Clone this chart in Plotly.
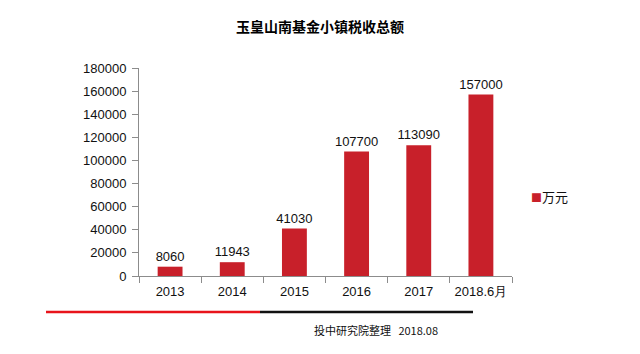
import plotly.graph_objects as go

categories = ["2013", "2014", "2015", "2016", "2017", "2018.6月"]
values = [8060, 11943, 41030, 107700, 113090, 157000]
series_name = "万元"
title = "玉皇山南基金小镇税收总额"
footer = "投中研究院整理   2018.08"
yticks = [0, 20000, 40000, 60000, 80000, 100000, 120000, 140000, 160000, 180000]

W, H = 640, 354
L, R, T, B = 139, 128, 68, 78
pw, ph = W - L - R, H - T - B

def px(x):
    return (x - L) / pw

def py(y):
    return (H - B - y) / ph

bar_color = "#C8202A"
axis_color = "#8C8C8C"

fig = go.Figure()
fig.add_trace(go.Bar(
    x=categories, y=values, name=series_name,
    marker=dict(color=bar_color, line=dict(width=0)),
    text=[str(v) for v in values], textposition="outside",
    constraintext="none",
    textfont=dict(family="Liberation Sans, Arial", size=13, color="#111"),
    cliponaxis=False, showlegend=False,
))

fig.update_layout(
    width=W, height=H,
    margin=dict(l=L, r=R, t=T, b=B),
    paper_bgcolor="white", plot_bgcolor="white",
    bargap=0.6,
    font=dict(family="Liberation Sans, Arial", size=13, color="#111"),
    xaxis=dict(
        type="category", showline=True, linecolor=axis_color, linewidth=1,
        ticks="outside", tickson="boundaries", ticklen=6, tickcolor=axis_color,
        tickfont=dict(size=13, color="#111"), showgrid=False,
        ticklabelstandoff=3,
    ),
    yaxis=dict(
        range=[0, 180000], tickvals=yticks, ticktext=[str(v) for v in yticks],
        showline=True, linecolor=axis_color, linewidth=1,
        ticks="outside", ticklen=6, tickcolor=axis_color,
        tickfont=dict(size=13, color="#111"), showgrid=False, zeroline=False,
        ticklabelstandoff=3,
    ),
    annotations=[
        dict(text="<b>" + title + "</b>", xref="paper", yref="paper",
             x=px(320), y=py(26), xanchor="center", yanchor="middle",
             showarrow=False, font=dict(family="Noto Sans CJK SC", size=14, color="#000")),
        dict(text="<span style='color:" + bar_color + ";font-size:11px'>■</span>" + series_name,
             xref="paper", yref="paper", x=px(529), y=py(196),
             xanchor="left", yanchor="middle", showarrow=False,
             font=dict(family="Noto Sans CJK SC", size=13, color="#111")),
        dict(text=footer, xref="paper", yref="paper", x=px(312), y=py(330),
             xanchor="left", yanchor="middle", showarrow=False,
             font=dict(family="Noto Sans CJK SC", size=11, color="#111")),
    ],
    shapes=[
        dict(type="line", xref="paper", yref="paper", x0=px(46), x1=px(260),
             y0=py(312), y1=py(312), line=dict(color="#E8141B", width=2.5)),
        dict(type="line", xref="paper", yref="paper", x0=px(260), x1=px(473),
             y0=py(312), y1=py(312), line=dict(color="#111111", width=2.5)),
    ],
)

fig.write_html("out.html")
